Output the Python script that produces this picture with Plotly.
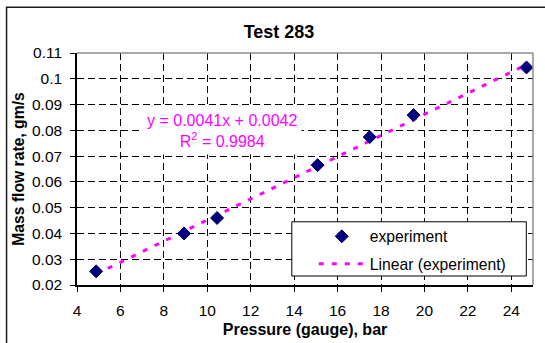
import plotly.graph_objects as go

# ---- data ----
pressure_bar = [4.88, 8.93, 10.45, 15.08, 17.48, 19.50, 24.70]
mass_flow_gms = [0.0253, 0.0400, 0.0460, 0.0665, 0.0774, 0.0859, 0.1044]
trend_slope = 0.0041
trend_intercept = 0.0042
trend_r2 = 0.9984
x_ticks = [4, 6, 8, 10, 12, 14, 16, 18, 20, 22, 24]
y_ticks = [0.02, 0.03, 0.04, 0.05, 0.06, 0.07, 0.08, 0.09, 0.10, 0.11]
y_tick_labels = ["0.02", "0.03", "0.04", "0.05", "0.06", "0.07", "0.08", "0.09", "0.1", "0.11"]

FONT = "Liberation Sans, Arial, sans-serif"
MAGENTA = "#FF00FF"
NAVY = "#000080"

trend_x = [min(pressure_bar), max(pressure_bar)]
trend_y = [trend_slope * v + trend_intercept for v in trend_x]

fig = go.Figure()
fig.add_trace(go.Scatter(
    x=trend_x, y=trend_y, mode="lines", name="Linear (experiment)",
    line=dict(color=MAGENTA, width=3, dash="5px,8px"),
    legendgroup="b", legendrank=2,
))
fig.add_trace(go.Scatter(
    x=pressure_bar, y=mass_flow_gms, mode="markers", name="experiment",
    marker=dict(symbol="diamond", size=10, color=NAVY, line=dict(color="#000050", width=1)),
    legendgroup="a", legendrank=1,
))

L, R, T, B = 77, 11.6, 52.7, 58
W, H = 545, 343
pw, ph = W - L - R, H - T - B

def px(xp):
    return (xp - L) / pw

def py(yp):
    return (H - B - yp) / ph

shapes = [
    # outer chart frame
    dict(type="rect", xref="paper", yref="paper", x0=px(6.5), x1=px(560), y0=py(360), y1=py(7),
         line=dict(color="#1a1a1a", width=1.5), fillcolor="rgba(0,0,0,0)", layer="below"),
    # top and right plot-area border (gray)
    dict(type="line", xref="paper", yref="paper", x0=0, x1=1, y0=1, y1=1,
         line=dict(color="#8c8c8c", width=1.5), layer="above"),
    dict(type="line", xref="paper", yref="paper", x0=1, x1=1, y0=0, y1=1,
         line=dict(color="#8c8c8c", width=1.5), layer="above"),
    # legend box
    dict(type="rect", xref="paper", yref="paper", x0=px(292), x1=px(526.7), y0=py(276), y1=py(221.7),
         line=dict(color="black", width=1), fillcolor="white", layer="above"),
]

fig.update_layout(
    width=W, height=H,
    margin=dict(l=L, r=R, t=T, b=B, autoexpand=False),
    paper_bgcolor="white", plot_bgcolor="white",
    font=dict(family=FONT, size=15.5, color="black"),
    title=dict(text="<b>Test 283</b>", x=279 / W, xref="container", xanchor="center",
               y=1 - 31.5 / H, yref="container", yanchor="middle",
               font=dict(family=FONT, size=18, color="black")),
    showlegend=True,
    legend=dict(x=px(314), xanchor="left", y=py(219.5), yanchor="top",
                bgcolor="rgba(0,0,0,0)", borderwidth=0, itemwidth=46,
                tracegroupgap=4, font=dict(family=FONT, size=15.7, color="black")),
    shapes=shapes,
    annotations=[dict(
        text="y = 0.0041x + 0.0042<br>R<sup>2</sup> = %.4f" % trend_r2,
        xref="paper", yref="paper", x=px(222), y=py(131),
        xanchor="center", yanchor="middle", showarrow=False,
        font=dict(family=FONT, size=16, color=MAGENTA),
        bgcolor="white", borderpad=4,
    )],
)

fig.update_xaxes(
    range=[4, 25], tickvals=x_ticks, ticktext=[str(v) for v in x_ticks],
    showline=True, linecolor="black", linewidth=1.5, automargin=False,
    ticks="outside", ticklen=5, tickcolor="black", tickwidth=1,
    showgrid=True, gridcolor="black", gridwidth=1, griddash="7px,4px",
    zeroline=False, ticklabelstandoff=6,
    title=dict(text="<b>Pressure (gauge), bar</b>", standoff=5,
               font=dict(family=FONT, size=16, color="black")),
)
fig.update_yaxes(
    range=[0.02, 0.11], tickvals=y_ticks, ticktext=y_tick_labels,
    showline=True, linecolor="black", linewidth=1.5, automargin=False,
    ticks="outside", ticklen=5, tickcolor="black", tickwidth=1,
    showgrid=True, gridcolor="black", gridwidth=1, griddash="7px,4px",
    zeroline=False, ticklabelstandoff=5,
    title=dict(text="<b>Mass flow rate, gm/s</b>", standoff=3,
               font=dict(family=FONT, size=15.7, color="black")),
)

fig.write_html("out.html")
